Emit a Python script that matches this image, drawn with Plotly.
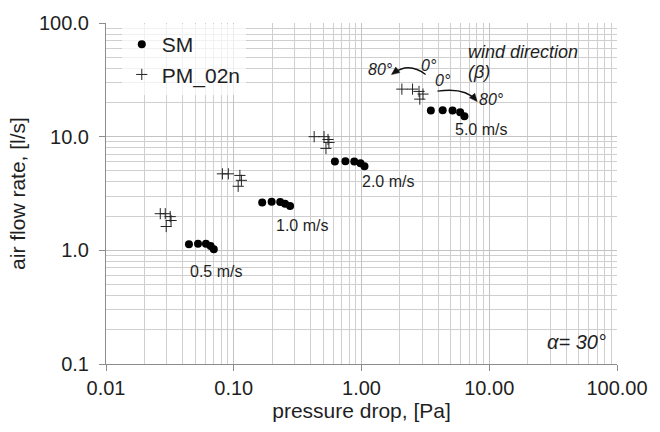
import math
import plotly.graph_objects as go

# ---- data ----
speeds = ["0.5 m/s", "1.0 m/s", "2.0 m/s", "5.0 m/s"]

sm_dp_05 = [0.0446, 0.0525, 0.0606, 0.0659, 0.0698]
sm_q_05 = [1.13, 1.14, 1.14, 1.09, 1.02]
sm_dp_10 = [0.167, 0.198, 0.231, 0.252, 0.276]
sm_q_10 = [2.64, 2.68, 2.66, 2.57, 2.45]
sm_dp_20 = [0.619, 0.748, 0.878, 0.982, 1.055]
sm_q_20 = [6.04, 6.08, 6.04, 5.84, 5.50]
sm_dp_50 = [3.49, 4.32, 5.16, 5.92, 6.39]
sm_q_50 = [16.96, 17.09, 16.96, 16.43, 15.16]

pm_dp_05 = [0.0266, 0.0291, 0.0318, 0.0323, 0.0296]
pm_q_05 = [2.10, 2.10, 1.98, 1.83, 1.62]
pm_dp_10 = [0.0815, 0.0907, 0.1117, 0.1148, 0.1083]
pm_q_10 = [4.71, 4.71, 4.56, 4.13, 3.66]
pm_dp_20 = [0.426, 0.509, 0.547, 0.556, 0.527]
pm_q_20 = [10.0, 10.0, 9.44, 8.89, 7.88]
pm_dp_50 = [2.07, 2.51, 2.82, 3.03, 2.86]
pm_q_50 = [26.2, 26.2, 25.0, 23.7, 21.4]

x_tickvals = [0.01, 0.1, 1, 10, 100]
x_ticktext = ["0.01", "0.10", "1.00", "10.00", "100.00"]
y_tickvals = [0.1, 1, 10, 100]
y_ticktext = ["0.1", "1.0", "10.0", "100.0"]

sm_x = sm_dp_05 + sm_dp_10 + sm_dp_20 + sm_dp_50
sm_y = sm_q_05 + sm_q_10 + sm_q_20 + sm_q_50
pm_x = pm_dp_05 + pm_dp_10 + pm_dp_20 + pm_dp_50
pm_y = pm_q_05 + pm_q_10 + pm_q_20 + pm_q_50

W, H = 660, 432
L, R, T, B = 106, 36, 19, 68
PW, PH = W - L - R, H - T - B

def px(x, y):
    return (x - L) / PW, (H - B - y) / PH

FONT = "Liberation Sans, Arial, sans-serif"
TXT = "#1f1f1f"

fig = go.Figure()
fig.add_trace(go.Scatter(x=sm_x, y=sm_y, mode="markers", name="SM",
                         marker=dict(symbol="circle", size=8, color="black")))
fig.add_trace(go.Scatter(x=pm_x, y=pm_y, mode="markers", name="PM_02n",
                         marker=dict(symbol="cross-thin", size=8, color="#222",
                                     line=dict(width=1, color="#222"))))

minor_x = [k * 10.0 ** e for e in range(-2, 2) for k in range(2, 10)]
minor_y = [k * 10.0 ** e for e in range(-1, 2) for k in range(2, 10)]

fig.update_xaxes(type="log", range=[-2, 2], tickmode="array", tickvals=x_tickvals,
                 ticktext=x_ticktext, showline=True, linecolor="#8c8c8c", linewidth=1,
                 ticks="outside", ticklen=6, tickcolor="#8c8c8c",
                 showgrid=True, gridcolor="#c3c3c3", gridwidth=1, zeroline=False,
                 minor=dict(tickmode="array", tickvals=minor_x, showgrid=True,
                            gridcolor="#cfcfcf", gridwidth=1, ticks=""),
                 tickfont=dict(family=FONT, size=20, color=TXT),
                 title=dict(text="pressure drop, [Pa]", font=dict(family=FONT, size=21, color=TXT),
                            standoff=5),
                 mirror=False)
fig.update_yaxes(type="log", range=[-1, 2], tickmode="array", tickvals=y_tickvals,
                 ticktext=y_ticktext, showline=True, linecolor="#8c8c8c", linewidth=1,
                 ticks="outside", ticklen=6, tickcolor="#8c8c8c",
                 showgrid=True, gridcolor="#c3c3c3", gridwidth=1, zeroline=False,
                 minor=dict(tickmode="array", tickvals=minor_y, showgrid=True,
                            gridcolor="#cfcfcf", gridwidth=1, ticks=""),
                 tickfont=dict(family=FONT, size=20, color=TXT),
                 ticklabelstandoff=6,
                 title=dict(text="air flow rate, [l/s]", font=dict(family=FONT, size=21, color=TXT),
                            standoff=7))

annotations = []
def label(text, x, y, size=16, italic=False, xanchor="center"):
    xp, yp = px(x, y)
    t = "<i>%s</i>" % text if italic else text
    annotations.append(dict(text=t, x=xp, y=yp, xref="paper", yref="paper",
                            xanchor=xanchor, yanchor="middle", showarrow=False,
                            font=dict(family=FONT, size=size, color=TXT)))

label(speeds[0], 218, 270)
label(speeds[1], 305, 224)
label(speeds[2], 392, 179)
label(speeds[3], 486, 127)
label("wind direction", 471, 48, size=18, italic=True, xanchor="left")
label("(β)", 471, 69, size=18, italic=True, xanchor="left")
label("80°", 384, 66, size=16, italic=True)
label("0°", 433, 62, size=16, italic=True)
label("0°", 448, 77, size=16, italic=True)
label("80°", 497, 96, size=16, italic=True)
label("α= 30°", 583, 342, size=20, italic=True)

shapes = []
def curved_arrow(p0, c, p1):
    a = px(*p0); b = px(*c); e = px(*p1)
    shapes.append(dict(type="path", xref="paper", yref="paper",
                       path="M %f,%f Q %f,%f %f,%f" % (a[0], a[1], b[0], b[1], e[0], e[1]),
                       line=dict(color="#111", width=1.3)))
    dx, dy = p1[0] - c[0], p1[1] - c[1]
    n = math.hypot(dx, dy)
    ux, uy = dx / n, dy / n
    tip = (p1[0] + ux * 2, p1[1] + uy * 2)
    base = (p1[0] - ux * 6, p1[1] - uy * 6)
    l1 = (base[0] - uy * 3.5, base[1] + ux * 3.5)
    l2 = (base[0] + uy * 3.5, base[1] - ux * 3.5)
    pts = [px(*tip), px(*l1), px(*l2)]
    shapes.append(dict(type="path", xref="paper", yref="paper",
                       path="M %f,%f L %f,%f L %f,%f Z" % (pts[0][0], pts[0][1], pts[1][0], pts[1][1], pts[2][0], pts[2][1]),
                       fillcolor="#111", line=dict(color="#111", width=0.5)))

curved_arrow((430, 71), (413, 58), (397, 70))
curved_arrow((442, 88), (470, 84), (481, 97))

lx, ly = px(122, 20)
fig.update_layout(
    width=W, height=H, margin=dict(l=L, r=R, t=T, b=B),
    paper_bgcolor="white", plot_bgcolor="white",
    showlegend=True,
    legend=dict(x=lx, y=ly, xanchor="left", yanchor="top",
                bgcolor="rgba(255,255,255,0.7)", borderwidth=0,
                font=dict(family=FONT, size=21, color=TXT),
                itemwidth=30, tracegroupgap=0),
    annotations=annotations, shapes=shapes,
)

fig.write_html("out.html")
